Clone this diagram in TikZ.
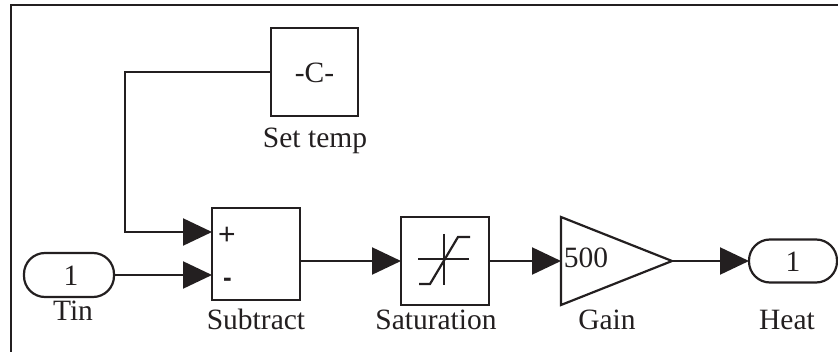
\documentclass[tikz,border=0pt]{standalone}
\usepackage{fontspec}
\setmainfont{Liberation Serif}
\newfontfamily\signfont{Liberation Sans}
\usetikzlibrary{arrows.meta,shapes.geometric}
\definecolor{ink}{HTML}{231F20}
\tikzset{
  x=1pt,y=-1pt,
  every node/.style={inner sep=0pt,outer sep=0pt,text=ink},
  blockbox/.style={draw=ink,line width=2.2pt,rectangle},
  portbox/.style={draw=ink,line width=2.2pt,rectangle,rounded corners=21pt,font=\fontsize{30}{30}\selectfont},
  lbl/.style={anchor=base,font=\fontsize{29.5}{30}\selectfont},
  signal/.style={draw=ink,line width=2.2pt,-{Triangle[length=29pt,width=27pt,fill=ink]}},
  wire/.style={draw=ink,line width=2.2pt},
}
\begin{document}
\begin{tikzpicture}
\useasboundingbox (0,0) rectangle (838,352);
\draw[wire] (11,352) -- (11,5) -- (838,5);
% blocks
\node[blockbox,minimum width=87pt,minimum height=88pt] (settemp) at (314.5,72) {};
\node[blockbox,minimum width=88pt,minimum height=92pt] (subtract) at (256,254) {};
\node[blockbox,minimum width=88pt,minimum height=88pt] (saturation) at (445,261) {};
\node[portbox,minimum width=90pt,minimum height=44pt] (tin) at (69,275) {};
\node[portbox,minimum width=88pt,minimum height=43pt] (heat) at (793,261) {};
\node[isosceles triangle,isosceles triangle stretches,draw=ink,line width=2.2pt,line join=miter,minimum width=88pt,minimum height=111pt,anchor=lower side] (gain) at (561,261) {};
% texts
\node[lbl] (ctext) at (314.5,83) {-C-};
\node[lbl] (settemplabel) at (315,148) {Set temp};
\node[lbl] (tinone) at (71,286) {1};
\node[lbl] (tinlabel) at (73,321) {Tin};
\node[lbl] (subtractlabel) at (256,330) {Subtract};
\node[lbl] (saturationlabel) at (436,330) {Saturation};
\node[lbl] (gaintext) at (586,268) {500};
\node[lbl] (gainlabel) at (607,330) {Gain};
\node[lbl] (heatone) at (793,272) {1};
\node[lbl] (heatlabel) at (787,330) {Heat};
\node[anchor=base,font=\signfont\fontsize{30}{30}\selectfont] (plus) at (227,245) {+};
\node[anchor=base,font=\signfont\bfseries\fontsize{26}{26}\selectfont] (minus) at (227.5,287) {-};
% saturation icon
\draw[wire] (418,259) -- (469,259);
\draw[wire] (444,234) -- (444,285);
\draw[wire] (419,284) -- (430,284) -- (458,237) -- (470,237);
% connectors
\coordinate (bend) at (125,150);
\coordinate (subplus) at (subtract.west |- 0,232);
\coordinate (subminus) at (subtract.west |- tin.east);
\draw[wire] (settemp.west) -| (bend);
\draw[signal] (bend) |- (subplus);
\draw[signal] (tin.east) -- (subminus);
\draw[signal] (subtract.east |- saturation.west) -- (saturation.west);
\draw[signal] (saturation.east) -- (gain.lower side);
\draw[signal] (gain.apex) -- (heat.west);
\end{tikzpicture}
\end{document}
